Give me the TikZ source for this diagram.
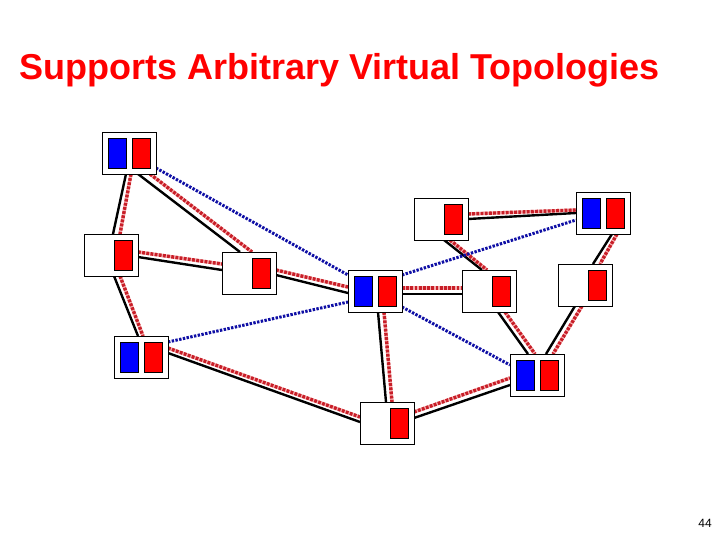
\documentclass[tikz,border=0pt]{standalone}
\usepackage{fontspec}
\setmainfont{Liberation Sans}
\usetikzlibrary{calc,backgrounds}
\definecolor{titlered}{RGB}{255,0,0}
\definecolor{linkred}{RGB}{200,30,40}
\definecolor{linkpink}{RGB}{245,175,175}
\definecolor{linkblue}{RGB}{15,15,165}
\tikzset{
  hostbox/.style={draw=black, fill=white, line width=0.9pt, anchor=north west,
    minimum width=54pt, minimum height=42pt, inner sep=0pt, outer sep=0pt},
  bluerect/.style={draw=black, fill={rgb,255:red,0;green,0;blue,255}, line width=0.7pt,
    minimum width=18pt, minimum height=30pt, inner sep=0pt},
  redrect/.style={draw=black, fill={rgb,255:red,255;green,0;blue,0}, line width=0.7pt,
    minimum width=18pt, minimum height=30pt, inner sep=0pt},
  blacklink/.style={draw=black, line width=2.4pt},
  redlink/.style={preaction={draw=linkpink, line width=3.4pt},
    draw=linkred, line width=3.4pt, dash pattern=on 2.8pt off 1.4pt},
  bluelink/.style={draw=linkblue, line width=3pt, dash pattern=on 2.4pt off 1.4pt},
}
\newcommand\mkdouble[3]{%
  \node[hostbox] (#1) at (#2,#3) {};
  \node[bluerect] (#1b) at ($(#1.north west)+(15,21)$) {};
  \node[redrect] (#1r) at ($(#1.north west)+(39,21)$) {};}
\newcommand\mksingle[3]{%
  \node[hostbox] (#1) at (#2,#3) {};
  \node[redrect] (#1r) at ($(#1.north west)+(39,21)$) {};}
\newcommand\lnk[5]{% style, nodeA, offsetA, nodeB, offsetB
  \draw[#1] ($(#2.north west)+(#3)$) -- ($(#4.north west)+(#5)$);}
\begin{document}
\begin{tikzpicture}[x=1pt,y=-1pt]
\useasboundingbox (0,0) rectangle (720,540);
\node[anchor=base west, inner sep=0pt, text=titlered, font=\fontsize{36}{42}\selectfont\bfseries] (title) at (19,80) {Supports Arbitrary Virtual Topologies};
\node[anchor=base east, inner sep=0pt, font=\fontsize{12}{14}\selectfont] (pagenum) at (712,527) {44};

\mkdouble{A}{102}{132}
\mksingle{B}{84}{234}
\mksingle{C}{222}{252}
\mksingle{D}{414}{198}
\mkdouble{E}{576}{192}
\mkdouble{F}{348}{270}
\mksingle{G}{462}{270}
\mksingle{H}{558}{264}
\mkdouble{I}{114}{336}
\mksingle{J}{360}{402}
\mkdouble{K}{510}{354}

\begin{scope}[on background layer]
% physical (black) + red virtual links
\lnk{blacklink}{A}{24,42}{B}{29,0}
\lnk{redlink}{A}{29,42}{B}{36,0}
\lnk{blacklink}{A}{36,42}{C}{18,0}
\lnk{redlink}{A}{48,42}{C}{30,0}
\lnk{blacklink}{B}{54,23}{C}{0,18}
\lnk{redlink}{B}{54,18}{C}{0,12}
\lnk{blacklink}{B}{30,42}{I}{24,0}
\lnk{redlink}{B}{36,42}{I}{29,0}
\lnk{blacklink}{C}{54,23}{F}{0,23}
\lnk{redlink}{C}{54,18}{F}{0,17}
\lnk{blacklink}{F}{54,24}{G}{0,24}
\lnk{redlink}{F}{54,18}{G}{0,18}
\lnk{blacklink}{F}{30,42}{J}{26,0}
\lnk{redlink}{F}{36,42}{J}{32,0}
\lnk{blacklink}{D}{54,21}{E}{0,21}
\lnk{redlink}{D}{54,16}{E}{0,18}
\lnk{blacklink}{D}{30,42}{G}{20,0}
\lnk{redlink}{D}{36,42}{G}{25,0}
\lnk{blacklink}{E}{36,42}{H}{35,0}
\lnk{redlink}{E}{41,42}{H}{42,0}
\lnk{blacklink}{G}{36,42}{K}{18,0}
\lnk{redlink}{G}{43,42}{K}{25,0}
\lnk{blacklink}{H}{17,42}{K}{36,0}
\lnk{redlink}{H}{24,42}{K}{43,0}
\lnk{blacklink}{I}{54,17}{J}{0,20}
\lnk{redlink}{I}{54,12}{J}{0,15}
\lnk{blacklink}{J}{54,16}{K}{0,31}
\lnk{redlink}{J}{54,10}{K}{0,24}
% blue virtual links
\lnk{bluelink}{A}{54,36}{F}{0,5}
\lnk{bluelink}{F}{54,5}{E}{0,28}
\lnk{bluelink}{I}{54,6}{F}{0,32}
\lnk{bluelink}{F}{54,37}{K}{0,11}
\end{scope}
\end{tikzpicture}
\end{document}
